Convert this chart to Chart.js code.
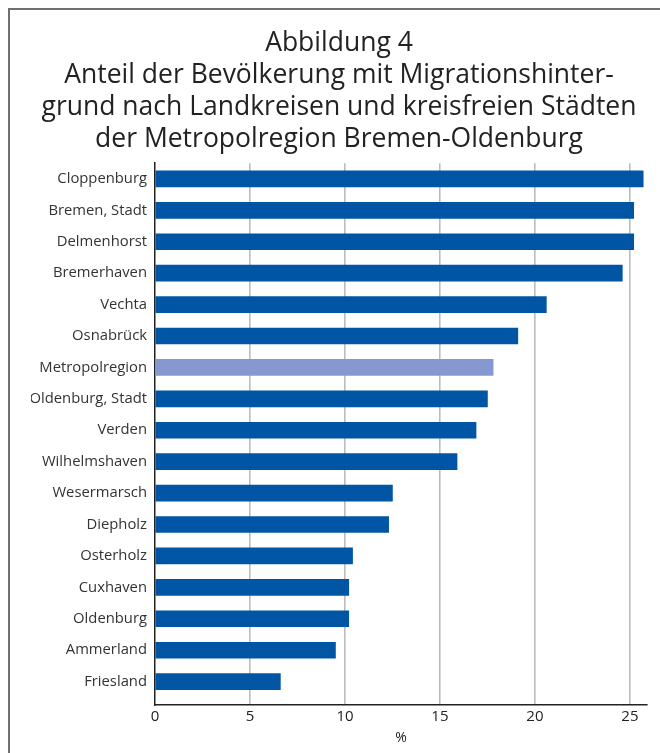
<!DOCTYPE html>
<html>
<head>
<meta charset="utf-8">
<script src="https://cdn.jsdelivr.net/npm/chart.js@4"></script>
<style>
  html, body { margin: 0; padding: 0; background: #fff; }
  #wrap { width: 660px; height: 753px; }
</style>
</head>
<body>
<div id="wrap"><canvas id="chart" width="660" height="753"></canvas></div>
<script>
const regions = [
  "Cloppenburg", "Bremen, Stadt", "Delmenhorst", "Bremerhaven", "Vechta",
  "Osnabrück", "Metropolregion", "Oldenburg, Stadt", "Verden", "Wilhelmshaven",
  "Wesermarsch", "Diepholz", "Osterholz", "Cuxhaven", "Oldenburg",
  "Ammerland", "Friesland"
];
const shares = [25.7, 25.2, 25.2, 24.6, 20.6, 19.1, 17.8, 17.5, 16.9, 15.9,
                12.5, 12.3, 10.4, 10.2, 10.2, 9.5, 6.6];
const titleLines = [
  "Abbildung 4",
  "Anteil der Bevölkerung mit Migrationshinter-",
  "grund nach Landkreisen und kreisfreien Städten",
  "der Metropolregion Bremen-Oldenburg"
];

const dark = "#0056a5";
const light = "#8797cf";
const font = "'Open Sans', 'Noto Sans', sans-serif";

// grey frame at the left and top of the figure
const frame = {
  id: "frame",
  beforeDraw(chart) {
    const ctx = chart.ctx;
    ctx.save();
    ctx.fillStyle = "#fff";
    ctx.fillRect(0, 0, chart.width, chart.height);
    ctx.strokeStyle = "#707070";
    ctx.lineWidth = 2;
    ctx.beginPath();
    ctx.moveTo(9, chart.height);
    ctx.lineTo(9, 9);
    ctx.lineTo(chart.width, 9);
    ctx.stroke();
    ctx.restore();
  }
};

new Chart(document.getElementById("chart"), {
  type: "bar",
  data: {
    labels: regions,
    datasets: [{
      data: shares,
      backgroundColor: regions.map(r => r === "Metropolregion" ? light : dark),
      barThickness: 16,
      borderWidth: 0
    }]
  },
  options: {
    indexAxis: "y",
    responsive: false,
    animation: false,
    layout: { padding: { left: 31, right: 13, top: 10, bottom: 7 } },
    plugins: {
      legend: { display: false },
      tooltip: { enabled: false },
      title: {
        display: true,
        text: titleLines,
        color: "#222",
        font: { family: font, size: 26.5, weight: "normal", lineHeight: 1.2 },
        padding: { top: 18, bottom: 8 }
      }
    },
    scales: {
      x: {
        min: 0,
        max: 25.9,
        ticks: {
          stepSize: 5,
          includeBounds: false,
          color: "#222",
          font: { family: font, size: 15 },
          padding: 3
        },
        grid: {
          color: ctx => ctx.tick && ctx.tick.value === 0 ? "rgba(0,0,0,0)" : "#bcbcc0",
          lineWidth: 1.6,
          drawTicks: false
        },
        border: { color: "#222", width: 1.5 },
        title: {
          display: true,
          text: "%",
          color: "#222",
          font: { family: font, size: 14 },
          padding: { top: 0, bottom: 0 }
        }
      },
      y: {
        ticks: {
          color: "#333",
          font: { family: font, size: 14.8 },
          padding: 8
        },
        grid: { display: false, drawTicks: false },
        border: { color: "#222", width: 1.5 },
        // a little extra room under the last bar, as in the original
        afterBuildTicks(scale) { scale._valueRange = regions.length + 0.25; },
        afterFit(scale) { scale.width = 124; }
      }
    }
  },
  plugins: [frame]
});
</script>
</body>
</html>
